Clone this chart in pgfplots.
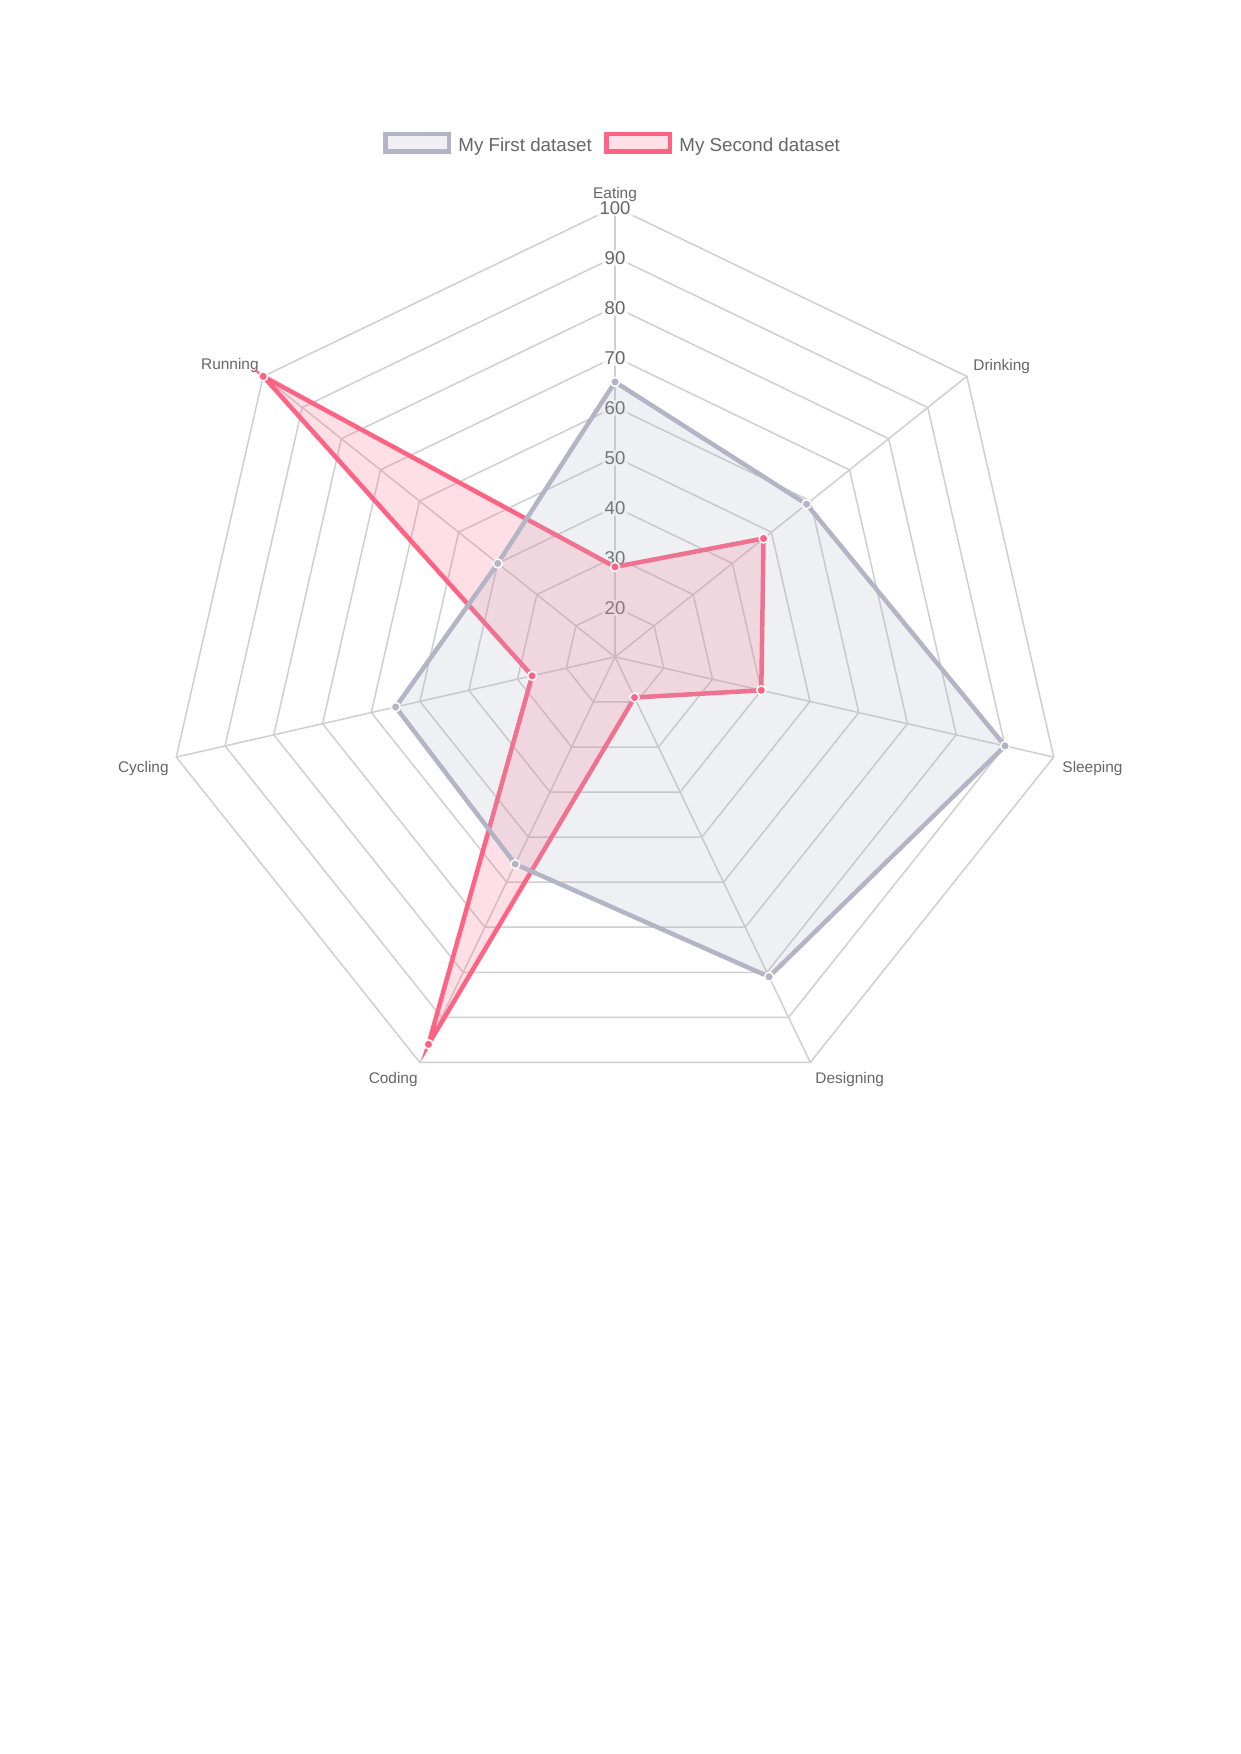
\documentclass[border=0pt]{standalone}
\usepackage{fontspec}
\setmainfont{Liberation Sans}
\usepackage{pgfplots}
\usepackage{pgfplotstable}
\pgfplotsset{compat=1.18}
\definecolor{greyc}{RGB}{179,181,198}
\definecolor{pinkc}{RGB}{255,99,132}
\definecolor{txt}{HTML}{666666}
\definecolor{gridc}{HTML}{CFCFCF}

% angle (deg) and value; the radial scale runs from 10 (centre) to 100
\pgfplotstableread{
a v
90 65
38.5714 59
-12.8571 90
-64.2857 81
-115.7143 56
-167.1429 55
-218.5714 40
}\firstdata
\pgfplotstableread{
a v
90 28
38.5714 48
-12.8571 40
-64.2857 19
-115.7143 96
-167.1429 27
-218.5714 100
}\seconddata

\begin{document}
\begin{tikzpicture}
\path[use as bounding box, fill=white] (0,0) rectangle (595.27pt,842pt);
\begin{axis}[at={(0,0)}, anchor=south west,
  x=2.4003pt, y=2.4003pt,
  xmin=-123, xmax=125, ymin=-219.4, ymax=131.4,
  hide axis, clip=false]

% polygon grid
\pgfplotsinvokeforeach{10,20,...,90}{
  \draw[gridc, line width=0.72pt]
    (axis cs:0,#1)
    -- (axis cs:{0.78183*#1},{0.62349*#1})
    -- (axis cs:{0.97493*#1},{-0.22252*#1})
    -- (axis cs:{0.43388*#1},{-0.90097*#1})
    -- (axis cs:{-0.43388*#1},{-0.90097*#1})
    -- (axis cs:{-0.97493*#1},{-0.22252*#1})
    -- (axis cs:{-0.78183*#1},{0.62349*#1}) -- cycle;
}
% angle lines
\draw[gridc, line width=0.72pt] (axis cs:0,0) -- (axis cs:0,90);
\draw[gridc, line width=0.72pt] (axis cs:0,0) -- (axis cs:70.36,56.11);
\draw[gridc, line width=0.72pt] (axis cs:0,0) -- (axis cs:87.74,-20.03);
\draw[gridc, line width=0.72pt] (axis cs:0,0) -- (axis cs:39.05,-81.09);
\draw[gridc, line width=0.72pt] (axis cs:0,0) -- (axis cs:-39.05,-81.09);
\draw[gridc, line width=0.72pt] (axis cs:0,0) -- (axis cs:-87.74,-20.03);
\draw[gridc, line width=0.72pt] (axis cs:0,0) -- (axis cs:-70.36,56.11);

% tick labels
\tikzset{tick/.style={fill=white, fill opacity=0.75, text opacity=1, text=txt,
  inner xsep=1.2pt, inner ysep=0.8pt, font=\fontsize{8.9}{10}\selectfont}}
\node[tick] at (axis cs:0,9.8) {20};
\node[tick] at (axis cs:0,19.8) {30};
\node[tick] at (axis cs:0,29.8) {40};
\node[tick] at (axis cs:0,39.8) {50};
\node[tick] at (axis cs:0,49.8) {60};
\node[tick] at (axis cs:0,59.8) {70};
\node[tick] at (axis cs:0,69.8) {80};
\node[tick] at (axis cs:0,79.8) {90};
\node[tick] at (axis cs:0,89.8) {100};

% point labels
\tikzset{plab/.style={text=txt, inner sep=0pt, font=\fontsize{7.4}{8.5}\selectfont}}
\node[plab, anchor=base] at (axis cs:0,91.66) {Eating};
\node[plab, anchor=base west] at (axis cs:71.6,57.3) {Drinking};
\node[plab, anchor=base west] at (axis cs:89.4,-23.2) {Sleeping};
\node[plab, anchor=base west] at (axis cs:40.0,-85.4) {Designing};
\node[plab, anchor=base east] at (axis cs:-39.4,-85.4) {Coding};
\node[plab, anchor=base east] at (axis cs:-89.2,-23.2) {Cycling};
\node[plab, anchor=base east] at (axis cs:-71.2,57.5) {Running};

% datasets
\addplot[draw=pinkc, line width=2.16pt, fill=pinkc, fill opacity=0.2, draw opacity=1,
  mark=*, mark size=2.16pt,
  mark options={fill=pinkc, draw=white, line width=0.72pt, fill opacity=1, draw opacity=1}]
  table[x expr={(\thisrow{v}-10)*cos(\thisrow{a})}, y expr={(\thisrow{v}-10)*sin(\thisrow{a})}] {\seconddata} -- cycle;
\addplot[draw=greyc, line width=2.16pt, fill=greyc, fill opacity=0.2, draw opacity=1,
  mark=*, mark size=2.16pt,
  mark options={fill=greyc, draw=white, line width=0.72pt, fill opacity=1, draw opacity=1}]
  table[x expr={(\thisrow{v}-10)*cos(\thisrow{a})}, y expr={(\thisrow{v}-10)*sin(\thisrow{a})}] {\firstdata} -- cycle;

% legend
\draw[greyc, fill=greyc!20, line width=2.16pt] (axis cs:-45.9,101.1) rectangle (axis cs:-33.2,104.6);
\node[anchor=base west, inner sep=0pt, text=txt, font=\fontsize{9}{10}\selectfont] at (axis cs:-31.4,101.1) {My First dataset};
\draw[pinkc, fill=pinkc!20, line width=2.16pt] (axis cs:-1.74,101.1) rectangle (axis cs:10.96,104.6);
\node[anchor=base west, inner sep=0pt, text=txt, font=\fontsize{9}{10}\selectfont] at (axis cs:12.8,101.1) {My Second dataset};
\end{axis}
\end{tikzpicture}
\end{document}
